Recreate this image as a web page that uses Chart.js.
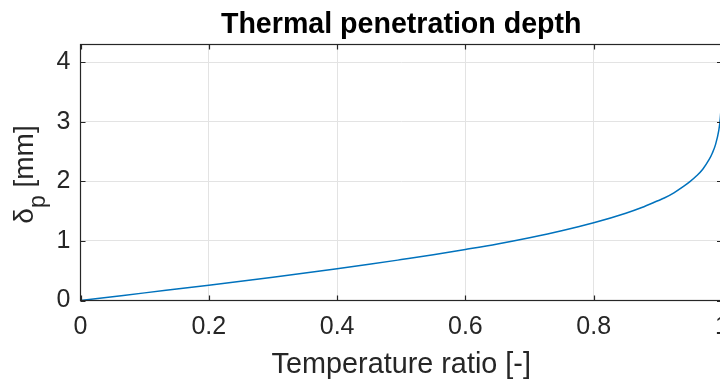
<!DOCTYPE html>
<html>
<head>
<meta charset="utf-8">
<script src="https://cdn.jsdelivr.net/npm/chart.js@4/dist/chart.umd.min.js"></script>
<style>
  html, body { margin: 0; padding: 0; background: #fff; }
  #wrap { width: 720px; height: 383px; overflow: hidden; position: relative; }
  canvas { display: block; }
</style>
</head>
<body>
<div id="wrap"><canvas id="chartDepth" width="724" height="383"></canvas></div>
<script>
// Temperature ratio (x) and penetration depth in mm (y)
const tempRatio = [0, 0.05, 0.1, 0.15, 0.2, 0.25, 0.3, 0.35, 0.4, 0.45, 0.5, 0.55, 0.6, 0.65,
  0.7, 0.75, 0.8, 0.85, 0.875, 0.9, 0.91, 0.925, 0.94, 0.95, 0.96, 0.97, 0.98, 0.985, 0.99, 0.995, 0.997, 0.998];
const depthMm = [0, 0.064, 0.128, 0.193, 0.258, 0.324, 0.392, 0.462, 0.534, 0.608, 0.687, 0.768, 0.857, 0.950,
  1.055, 1.171, 1.305, 1.466, 1.562, 1.675, 1.721, 1.809, 1.916, 1.996, 2.091, 2.206, 2.369, 2.478, 2.623, 2.858, 3.022, 3.147];

const xTicks = [0, 0.2, 0.4, 0.6, 0.8, 1];
const yTicks = [0, 1, 2, 3, 4];

const titleText = 'Thermal penetration depth';
const xLabelText = 'Temperature ratio [-]';

const axisColor = '#262626';
const fontFamily = '"Liberation Sans", Arial, Helvetica, sans-serif';

const ctxDepth = document.getElementById('chartDepth').getContext('2d');

// Caja, ticks hacia dentro, titulo y etiquetas de ejes
const framePlugin = {
  id: 'frame',
  afterDraw(chart) {
    const { ctx, chartArea: a, scales } = chart;
    const tl = 5;
    ctx.save();
    ctx.strokeStyle = axisColor;
    ctx.lineWidth = 1.2;
    ctx.strokeRect(a.left, a.top, a.right - a.left, a.bottom - a.top);
    ctx.beginPath();
    xTicks.forEach(v => {
      const px = Math.round(scales.x.getPixelForValue(v)) + 0.5;
      ctx.moveTo(px, a.bottom); ctx.lineTo(px, a.bottom - tl);
      ctx.moveTo(px, a.top); ctx.lineTo(px, a.top + tl);
    });
    yTicks.forEach(v => {
      const py = Math.round(scales.y.getPixelForValue(v)) + 0.5;
      ctx.moveTo(a.left, py); ctx.lineTo(a.left + tl, py);
      ctx.moveTo(a.right, py); ctx.lineTo(a.right - tl, py);
    });
    ctx.stroke();

    const cx = (a.left + a.right) / 2;
    ctx.fillStyle = '#000';
    ctx.textAlign = 'center';
    ctx.textBaseline = 'alphabetic';
    ctx.font = 'bold 28.6px ' + fontFamily;
    ctx.fillText(titleText, cx, 33);

    ctx.fillStyle = axisColor;
    ctx.font = '28.8px ' + fontFamily;
    ctx.fillText(xLabelText, cx, 373);

    // etiqueta Y con subindice: delta_p [mm]
    const big = '28px ' + fontFamily;
    const small = '23px ' + fontFamily;
    ctx.font = big;
    const wD = ctx.measureText('\u03b4').width;
    const wR = ctx.measureText(' [mm]').width;
    ctx.font = small;
    const wP = ctx.measureText('p').width;
    const total = wD + wP + wR;
    ctx.translate(33, (a.top + a.bottom) / 2 + 2);
    ctx.rotate(-Math.PI / 2);
    ctx.textAlign = 'left';
    let u = -total / 2;
    ctx.font = big;
    ctx.fillText('\u03b4', u, 0);
    u += wD;
    ctx.font = small;
    ctx.fillText('p', u, 12);
    u += wP;
    ctx.font = big;
    ctx.fillText(' [mm]', u, 0);
    ctx.restore();
  }
};

const depthChart = new Chart(ctxDepth, {
  type: 'scatter',
  data: {
    datasets: [{
      data: tempRatio.map((x, i) => ({ x: x, y: depthMm[i] })),
      showLine: true,
      borderColor: '#0072BD',
      borderWidth: 1.5,
      pointRadius: 0,
      cubicInterpolationMode: 'monotone',
      fill: false
    }]
  },
  options: {
    responsive: false,
    animation: false,
    events: [],
    layout: { padding: { top: 44.5, right: 2, left: 0, bottom: 0 } },
    plugins: {
      legend: { display: false },
      title: { display: false },
      tooltip: { enabled: false }
    },
    scales: {
      x: {
        type: 'linear',
        min: 0,
        max: 1,
        afterFit(scale) { scale.height = 82.5; scale.paddingLeft = 0; scale.paddingRight = 0; },
        afterBuildTicks(scale) { scale.ticks = xTicks.map(v => ({ value: v })); },
        ticks: {
          font: { family: fontFamily, size: 25 },
          color: axisColor,
          padding: 12,
          maxRotation: 0,
          autoSkip: false,
          callback: v => String(v)
        },
        grid: { color: '#e3e3e3', lineWidth: 1, drawTicks: false },
        border: { display: false }
      },
      y: {
        type: 'linear',
        min: 0,
        max: 4.3,
        afterFit(scale) { scale.width = 80.5; scale.paddingTop = 0; scale.paddingBottom = 0; },
        afterBuildTicks(scale) { scale.ticks = yTicks.map(v => ({ value: v })); },
        ticks: {
          font: { family: fontFamily, size: 25 },
          color: axisColor,
          padding: 10,
          autoSkip: false,
          callback: v => String(v)
        },
        grid: { color: '#e3e3e3', lineWidth: 1, drawTicks: false },
        border: { display: false }
      }
    }
  },
  plugins: [framePlugin]
});
</script>
</body>
</html>
